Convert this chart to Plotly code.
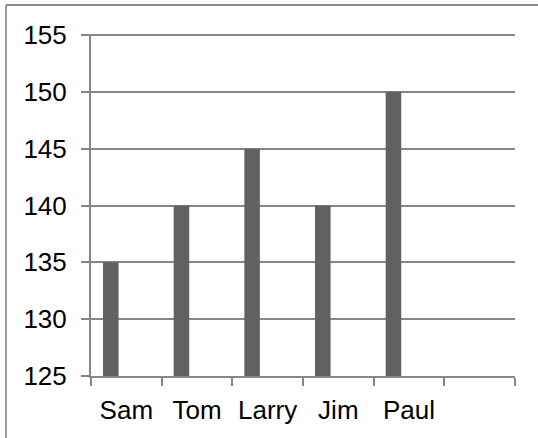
import plotly.graph_objects as go

categories = ["Sam", "Tom", "Larry", "Jim", "Paul", " "]
values = [135, 140, 145, 140, 150, None]
y_ticks = [125, 130, 135, 140, 145, 150, 155]

fig = go.Figure()
fig.add_trace(go.Bar(
    x=categories, y=values,
    marker=dict(color="#616161", line=dict(width=0)),
    width=0.22, offset=-0.33,
))

W, H = 538, 438
L, R, T, B = 91, 23, 35, 62
pw, ph = W - L - R, H - T - B

def px_x(p):
    return (p - L) / pw

def px_y(p):
    return (H - B - p) / ph

# outer chart border (top and left visible)
fig.add_shape(type="line", xref="paper", yref="paper",
              x0=px_x(6), x1=px_x(545), y0=px_y(5), y1=px_y(5),
              line=dict(color="#8c8c8c", width=2))
fig.add_shape(type="line", xref="paper", yref="paper",
              x0=px_x(6), x1=px_x(6), y0=px_y(5), y1=px_y(445),
              line=dict(color="#9a9a9a", width=2))
# top gridline at the range edge (plotly hides it at the boundary)
fig.add_shape(type="line", xref="paper", yref="paper",
              x0=px_x(83), x1=1, y0=1, y1=1,
              line=dict(color="#868686", width=2))

fig.update_layout(
    width=W, height=H,
    margin=dict(l=L, r=R, t=T, b=B, pad=0, autoexpand=False),
    paper_bgcolor="white", plot_bgcolor="white",
    showlegend=False,
    font=dict(family="Liberation Sans, Arial, sans-serif", size=26, color="black"),
    xaxis=dict(
        type="category", range=[-0.5, 5.5], automargin=False,
        showgrid=False, showline=True, linecolor="#868686", linewidth=2,
        ticks="outside", ticklen=8, tickcolor="#868686", tickwidth=2,
        tickson="boundaries", ticklabelstandoff=10,
        tickfont=dict(size=26),
    ),
    yaxis=dict(
        range=[125, 155], tickvals=y_ticks, automargin=False,
        showgrid=True, gridcolor="#868686", gridwidth=2,
        showline=True, linecolor="#868686", linewidth=2,
        ticks="outside", ticklen=8, tickcolor="#868686", tickwidth=2,
        ticklabelstandoff=9, zeroline=False,
        tickfont=dict(size=26),
    ),
)

fig.write_html("out.html", config={"displayModeBar": False},
               post_script="document.body.style.margin='0';document.body.style.overflow='hidden';")
